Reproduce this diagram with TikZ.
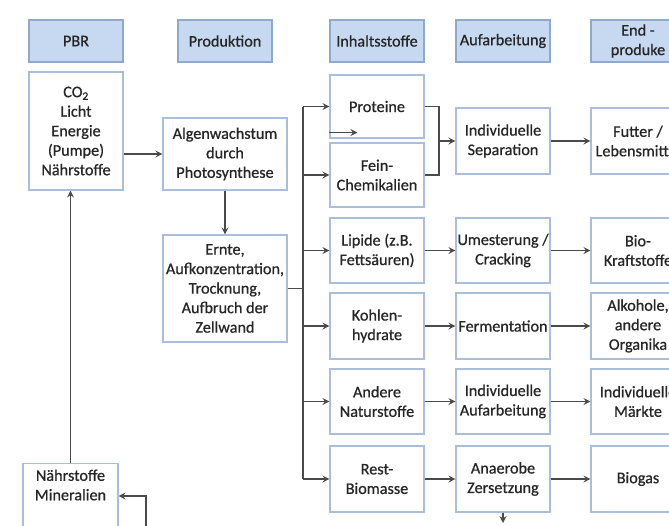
\documentclass[tikz,border=0pt]{standalone}
\usepackage{fontspec}
\setmainfont{Carlito}[FakeBold=0.7]
\usetikzlibrary{arrows.meta}
\definecolor{hdfill}{HTML}{C6D9F0}
\definecolor{hdline}{HTML}{8EA9CC}
\definecolor{bxline}{HTML}{A8BEDA}
\definecolor{cnline}{HTML}{4A4A4A}
\definecolor{txt}{HTML}{262626}

\begin{document}
\begin{tikzpicture}[
        x=1pt, y=-1pt,
        font=\fontsize{16.2}{19.5}\selectfont,
        hd/.style={draw=hdline, fill=hdfill, line width=1.1pt, align=center, text=txt,
                   minimum width=94pt, minimum height=42pt, inner sep=1pt},
        box/.style={draw=bxline, fill=white, line width=1.1pt, align=center, text=txt,
                    minimum width=94pt, inner sep=1pt},
        arr/.style={-{Stealth[length=7pt, width=7pt, inset=2.5pt]}, line width=1.2pt, draw=cnline},
        ln/.style={line width=1.2pt, draw=cnline}
    ]
    \clip (0,0) rectangle (669,525);
    \fill[white] (0,0) rectangle (669,525);
    \node[hd] (h1) at (76,41) {PBR};
    \node[hd] (h2) at (225,41) {Produktion};
    \node[hd] (h3) at (377,41) {Inhaltsstoffe};
    \node[hd] (h4) at (503,41) {Aufarbeitung};
    \node[hd] (h5) at (638,41) {End -\\produke};
    \node[box, minimum height=118pt] (pbr) at (76,131)
        {CO\textsubscript{2}\\Licht\\Energie\\(Pumpe)\\N\"ahrstoffe};
    \node[box, minimum width=124pt, minimum height=72pt] (algen) at (225,154)
        {Algenwachstum\\durch\\Photosynthese};
    \node[box, minimum width=124pt, minimum height=107pt] (ernte) at (225,288.5)
        {Ernte,\\Aufkonzentration,\\Trocknung,\\Aufbruch der\\Zellwand};
    \node[box, minimum height=63pt] (prot) at (377,106.5) {Proteine};
    \node[box, minimum height=64pt] (fein) at (377,175) {Fein-\\Chemikalien};
    \node[box, minimum height=65pt] (lip) at (377,250.5) {Lipide (z.B.\\Fetts\"auren)};
    \node[box, minimum height=66pt] (kohl) at (377,326) {Kohlen-\\hydrate};
    \node[box, minimum height=65pt] (andere) at (377,401.5) {Andere\\Naturstoffe};
    \node[box, minimum height=66pt] (rest) at (377,479) {Rest-\\Biomasse};
    \node[box, minimum height=66pt] (sep) at (503,141) {Individuelle\\Separation};
    \node[box, minimum height=65pt] (umest) at (503,250.5) {Umesterung /\\Cracking};
    \node[box, minimum height=66pt] (ferm) at (503,326) {Fermentation};
    \node[box, minimum height=65pt] (aufarb) at (503,401.5) {Individuelle\\Aufarbeitung};
    \node[box, minimum height=66pt] (anaer) at (503,479) {Anaerobe\\Zersetzung};
    \node[box, minimum height=66pt] (futter) at (638,141) {Futter /\\Lebensmittel};
    \node[box, minimum height=65pt] (bio) at (638,250.5) {Bio-\\Kraftstoffe};
    \node[box, minimum height=66pt] (alk) at (638,326) {Alkohole,\\andere\\Organika};
    \node[box, minimum height=65pt] (markt) at (638,401.5) {Individuelle\\M\"arkte};
    \node[box, minimum height=66pt] (biogas) at (638,479) {Biogas};
    \node[box, minimum width=95pt, anchor=north, inner sep=6pt, text depth=48pt] (naehr) at (70.5,463)
        {N\"ahrstoffe\\Mineralien};
    \coordinate (trunk) at (303,288.5);
    \coordinate (brk) at (439,141);
    \coordinate (ret) at (146,530);
    \coordinate (retbend) at (146,496);
    \coordinate (gas) at (503,523);
    \draw[arr] (pbr.east |- algen.west) -- (algen.west);
    \draw[arr] (algen.south) -- (ernte.north);
    \draw[ln] (ernte.east) -- (trunk);
    \draw[ln] (trunk |- prot.west) -- (trunk |- rest.west);
    \foreach \n in {prot,fein,lip,kohl,andere,rest}
        \draw[arr] (trunk |- \n.west) -- (\n.west);
    \draw[arr] ([yshift=6pt]prot.south west) -- ++(28,0);
    \draw[ln] (prot.east) -| (brk) |- (fein.east);
    \draw[arr] (brk) -- (sep.west);
    \draw[arr] (lip) -- (umest);
    \draw[arr] (kohl) -- (ferm);
    \draw[arr] (andere) -- (aufarb);
    \draw[arr] (rest) -- (anaer);
    \draw[arr] (sep) -- (futter);
    \draw[arr] (umest) -- (bio);
    \draw[arr, line width=2pt] (ferm) -- (alk);
    \draw[arr] (aufarb) -- (markt);
    \draw[arr] (anaer) -- (biogas);
    \draw[arr] (anaer.south) -- (gas);
    \draw[arr] (naehr.north) -- (naehr.north |- pbr.south);
    \draw[arr] (ret) -- (retbend) -- (retbend -| naehr.east);
\end{tikzpicture}
\end{document}
